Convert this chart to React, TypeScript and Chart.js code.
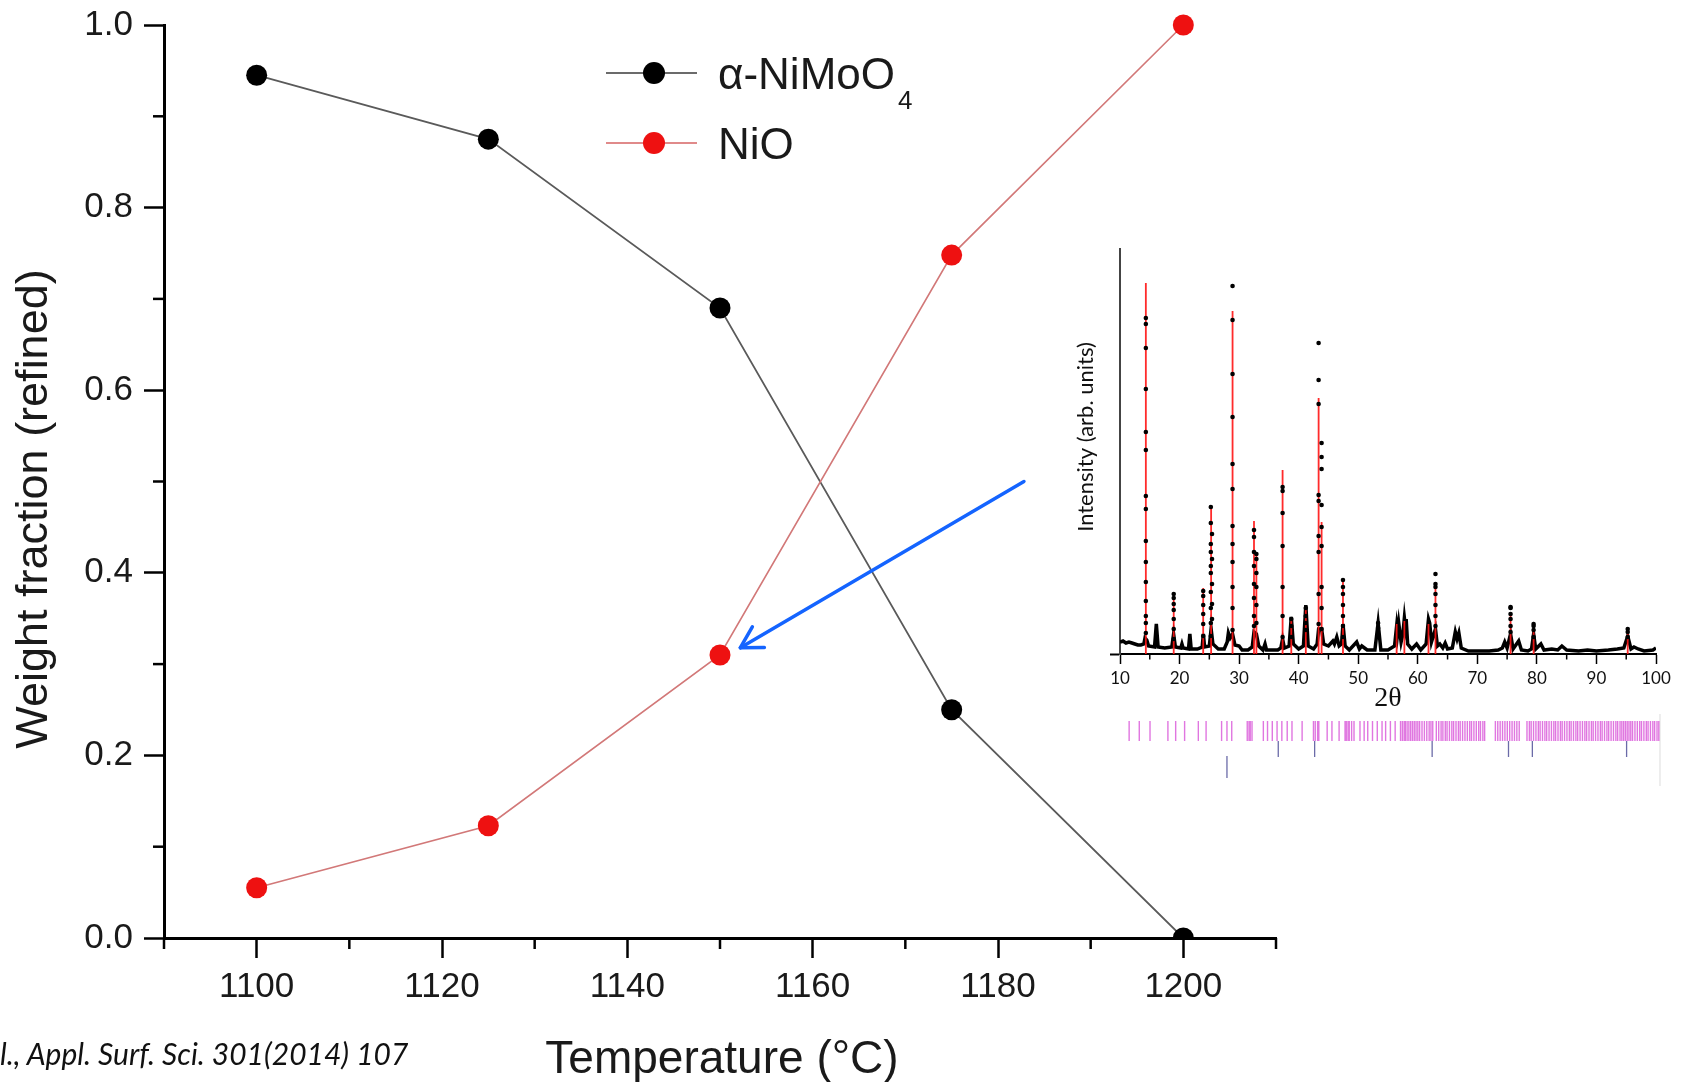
import React, { useEffect, useRef } from 'react';
import { Chart, registerables } from 'chart.js';
Chart.register(...registerables);

// ---------------- Main chart data ----------------
const temperatures = [1100, 1125, 1150, 1175, 1200];
const niMoO4Fraction = [0.945, 0.875, 0.69, 0.25, 0.0];
const niOFraction = [0.055, 0.123, 0.31, 0.748, 1.0];
const xMajorTicks = [1100, 1120, 1140, 1160, 1180, 1200];
const xMinorTicks = [1090, 1110, 1130, 1150, 1170, 1190, 1210];
const yMajorTicks = [0, 0.2, 0.4, 0.6, 0.8, 1.0];
const yMinorTicks = [0.1, 0.3, 0.5, 0.7, 0.9];
const xTitle = 'Temperature (°C)';
const yTitle = 'Weight fraction (refined)';
const seriesLabels = ['α-NiMoO₄', 'NiO'];
const citation = 'l., Appl. Surf. Sci. 301(2014) 107';

// ---------------- Inset XRD data (2θ, intensity arb. units) ----------------
const insetXTicks = [10, 20, 30, 40, 50, 60, 70, 80, 90, 100];
const insetXMinor = [15, 25, 35, 45, 55, 65, 75, 85, 95];
const insetXTitle = '2θ';
const insetYTitle = 'Intensity (arb. units)';

const obsLineX = [10.0, 10.5, 11.0, 11.5, 12.0, 12.5, 13.0, 13.5, 14.0, 14.2, 14.5, 14.8, 15.8, 16.1, 16.4, 17.5, 18.7, 19.0, 19.3, 20.2, 20.4, 20.6, 21.5, 21.73, 21.95, 23.0, 23.8, 24.0, 24.2, 25.0, 25.3, 25.6, 26.5, 27.5, 28.0, 28.2, 28.5, 28.9, 29.3, 30.0, 30.5, 31.5, 32.2, 32.5, 32.9, 33.3, 34.0, 34.35, 34.6, 36.5, 37.0, 37.3, 37.6, 38.4, 38.76, 39.1, 40.0, 40.8, 41.2, 41.6, 42.5, 43.1, 43.35, 43.85, 44.2, 45.0, 45.74, 46.0, 46.4, 46.8, 47.2, 47.44, 47.8, 48.5, 49.74, 50.2, 50.6, 51.5, 52.8, 53.34, 53.8, 55.0, 56.1, 56.45, 56.6, 56.8, 57.2, 57.5, 57.75, 57.9, 58.05, 58.3, 59.0, 59.8, 60.5, 61.4, 61.8, 62.0, 62.3, 62.97, 63.3, 63.7, 64.2, 64.6, 65.0, 65.8, 66.3, 66.6, 66.9, 67.3, 68.5, 70.0, 72.0, 73.5, 74.2, 74.6, 75.0, 75.58, 76.0, 76.94, 77.4, 78.5, 79.1, 79.45, 79.8, 80.67, 81.2, 82.5, 83.5, 84.2, 85.0, 87.0, 88.5, 90.0, 92.0, 93.5, 94.6, 95.25, 95.8, 96.3, 97.0, 98.0, 99.5, 100.0];
const obsLineY = [12, 13, 11, 12, 11, 10, 9, 9, 10, 16, 14, 8, 7, 30, 7, 6, 7, 20, 7, 6, 10, 6, 5, 20, 5, 5, 7, 20, 7, 8, 25, 10, 5, 5, 12, 21, 16, 20, 9, 8, 4, 4, 7, 22, 20, 8, 4, 10, 4, 4, 6, 15, 6, 8, 37, 10, 5, 8, 49, 8, 5, 10, 25, 25, 10, 8, 13, 10, 17, 8, 10, 30, 8, 4, 12, 5, 8, 4, 4, 31, 4, 4, 8, 28, 20, 31, 12, 20, 36, 28, 35, 10, 5, 10, 4, 10, 35, 31, 12, 25, 8, 10, 6, 11, 5, 6, 22, 15, 21, 6, 3, 3, 3, 4, 6, 12, 6, 20, 5, 13, 4, 3, 5, 20, 5, 10, 4, 5, 4, 8, 4, 3, 4, 3, 4, 5, 6, 18, 5, 7, 5, 3, 4, 6];

const calcPeakPos = [14.34, 19.02, 23.97, 25.3, 28.9, 32.5, 32.9, 37.3, 38.76, 41.2, 43.35, 43.85, 47.44, 56.45, 57.75, 61.8, 62.97, 75.58, 79.45, 95.25];
const calcPeakTop = [371, 56, 66, 148, 343, 133, 100, 184, 33, 45, 256, 132, 76, 30, 33, 30, 72, 40, 25, 22];

const obsPeakPos = [14.34, 19.02, 23.97, 25.25, 25.45, 28.9, 32.5, 32.9, 37.3, 38.76, 41.2, 43.35, 43.85, 47.44, 53.34, 62.97, 75.58, 79.45, 95.25];
const obsPeakDots = [
  [336, 330, 306, 265, 222, 204, 158, 145, 113, 92, 72, 53, 38, 31, 21],
  [60, 56, 50, 44, 35, 25, 15],
  [63, 58, 49, 40, 30, 18],
  [147, 131, 110, 102, 88, 81, 62, 46, 31, 18],
  [120, 95, 70, 50, 35],
  [368, 334, 280, 237, 190, 165, 128, 110, 92, 67, 46, 24],
  [124, 117, 102, 88, 70, 56, 38, 28],
  [100, 95, 81, 67, 49, 31],
  [167, 163, 141, 108, 67, 38, 17],
  [35, 28, 17],
  [46, 38, 31, 24],
  [311, 274, 250, 159, 153, 118, 102, 60, 30],
  [211, 197, 185, 149, 127, 108, 67, 46, 25],
  [74, 67, 60, 49, 38, 28, 17],
  [31, 26, 19],
  [80, 70, 67, 60, 49, 38, 28],
  [47, 46, 40, 35, 28, 22],
  [30, 28, 24, 17],
  [25, 22, 17],
];

// Bragg reflection markers (2θ)
const braggPhase1 = [11.7, 13.4, 15.2, 18.2, 19.5, 21.0, 23.3, 24.6, 27.2, 28.1, 28.9, 31.5, 31.8, 32.0, 32.3, 34.2, 34.9, 35.7, 36.5, 37.3, 38.2, 39.0, 40.7, 42.6, 42.9, 43.3, 43.5, 44.9, 45.7, 46.9, 47.9, 48.1, 48.4, 48.6, 49.0, 49.4, 50.4, 51.1, 51.7, 52.5, 53.3, 54.1, 54.7, 55.5, 56.3, 57.2, 57.5, 57.8, 58.0, 58.3, 58.6, 58.9, 59.2, 59.5, 59.8, 60.1, 60.4, 60.8, 61.2, 61.6, 62.0, 62.3, 62.6, 63.2, 63.6, 64.0, 64.3, 64.7, 65.0, 65.4, 65.8, 66.1, 66.5, 66.9, 67.2, 67.6, 68.0, 68.4, 68.8, 69.1, 69.5, 69.9, 70.3, 70.6, 71.0, 71.3, 73.1, 73.5, 73.9, 74.3, 74.7, 75.1, 75.5, 75.9, 76.3, 76.7, 77.1, 78.4, 78.8, 79.1, 79.5, 79.9, 80.3, 80.6, 81.0, 81.4, 81.7, 82.1, 82.5, 82.9, 83.2, 83.6, 84.0, 84.3, 84.7, 85.1, 85.5, 85.8, 86.2, 86.6, 86.9, 87.3, 87.7, 88.1, 88.4, 88.8, 89.2, 89.5, 89.9, 90.3, 90.7, 91.0, 91.4, 91.8, 92.1, 92.5, 92.9, 93.3, 93.6, 94.0, 94.3, 94.6, 94.9, 95.2, 95.5, 95.8, 96.1, 96.5, 96.9, 97.3, 97.6, 98.0, 98.4, 98.7, 99.1, 99.5, 99.8, 100.2, 100.5];
const braggPhase2 = [36.7, 42.8, 62.5, 75.3, 79.3, 95.1];
const braggPhase3 = [28.1];
const braggPanelEdge = [100.7];

const SANS = "'Liberation Sans', Arial, Helvetica, sans-serif";
const LATO = "Lato, 'Open Sans', sans-serif";

const mainDecor = {
  id: 'mainDecor',
  afterDraw(chart: any) {
    const { ctx, chartArea: a, scales } = chart;
    const x = scales.x, y = scales.y;
    ctx.save();
    // minor ticks
    ctx.strokeStyle = '#000';
    ctx.lineWidth = 2.5;
    xMinorTicks.forEach((v) => {
      const px = x.getPixelForValue(v);
      ctx.beginPath(); ctx.moveTo(px, a.bottom); ctx.lineTo(px, a.bottom + 11); ctx.stroke();
    });
    yMinorTicks.forEach((v) => {
      const py = y.getPixelForValue(v);
      ctx.beginPath(); ctx.moveTo(a.left, py); ctx.lineTo(a.left - 11, py); ctx.stroke();
    });
    // axis titles
    ctx.fillStyle = '#1a1a1a';
    ctx.font = `46px ${SANS}`;
    ctx.textAlign = 'center';
    ctx.textBaseline = 'alphabetic';
    ctx.fillText(xTitle, (a.left + a.right) / 2 + 2, 1073);
    ctx.font = `45px ${SANS}`;
    ctx.save();
    ctx.translate(47, 509);
    ctx.rotate(-Math.PI / 2);
    ctx.fillText(yTitle, 0, 0);
    ctx.restore();

    // legend
    const rows = [
      { y: 73, line: '#6b6b6b', fill: '#000', base: 'α-NiMoO', sub: '4' },
      { y: 143, line: '#e08a8a', fill: '#ee1111', base: 'NiO', sub: '' },
    ];
    rows.forEach((r) => {
      ctx.strokeStyle = r.line; ctx.lineWidth = 2;
      ctx.beginPath(); ctx.moveTo(606, r.y); ctx.lineTo(697, r.y); ctx.stroke();
      ctx.fillStyle = r.fill;
      ctx.beginPath(); ctx.arc(654, r.y, 11, 0, Math.PI * 2); ctx.fill();
      ctx.fillStyle = '#1a1a1a';
      ctx.textAlign = 'left';
      ctx.font = `44px ${SANS}`;
      ctx.fillText(r.base, 718, r.y + 16);
      if (r.sub) {
        const w = ctx.measureText(r.base).width;
        ctx.font = `26px ${SANS}`;
        ctx.fillText(r.sub, 718 + w + 3, r.y + 36);
      }
    });

    // arrow pointing to the NiO point at 1150 °C
    const p0 = { x: x.getPixelForValue(1182.8), y: y.getPixelForValue(0.5) };
    const p1 = { x: x.getPixelForValue(1152.2), y: y.getPixelForValue(0.318) };
    ctx.strokeStyle = '#1464ff';
    ctx.lineWidth = 3.5;
    ctx.lineCap = 'round';
    ctx.beginPath(); ctx.moveTo(p0.x, p0.y); ctx.lineTo(p1.x, p1.y); ctx.stroke();
    const ang = Math.atan2(p0.y - p1.y, p0.x - p1.x);
    [-1, 1].forEach((s) => {
      const a2 = ang + s * 0.52;
      ctx.beginPath(); ctx.moveTo(p1.x, p1.y);
      ctx.lineTo(p1.x + 24 * Math.cos(a2), p1.y + 24 * Math.sin(a2)); ctx.stroke();
    });
    ctx.restore();
  },
};

const insetDecor = {
  id: 'insetDecor',
  afterDraw(chart: any) {
    const { ctx, chartArea: a, scales } = chart;
    const x = scales.x;
    ctx.save();
    ctx.strokeStyle = '#000';
    ctx.lineWidth = 1.5;
    insetXMinor.forEach((v) => {
      const px = x.getPixelForValue(v);
      ctx.beginPath(); ctx.moveTo(px, a.bottom); ctx.lineTo(px, a.bottom + 5.5); ctx.stroke();
    });
    ctx.fillStyle = '#111';
    ctx.textAlign = 'center';
    ctx.textBaseline = 'middle';
    ctx.font = "28px 'Liberation Serif', 'DejaVu Serif', serif";
    ctx.fillText(insetXTitle, (a.left + a.right) / 2, a.bottom + 45);
    ctx.font = `22px ${LATO}`;
    ctx.translate(46, 217);
    ctx.rotate(-Math.PI / 2);
    ctx.fillText(insetYTitle, 0, 0);
    ctx.restore();
  },
};

export default function App() {
  const mainRef = useRef<HTMLCanvasElement>(null);
  const insetRef = useRef<HTMLCanvasElement>(null);
  const braggRef = useRef<HTMLCanvasElement>(null);

  useEffect(() => {
    const charts: Chart[] = [];

    charts.push(
      new Chart(mainRef.current as HTMLCanvasElement, {
        type: 'line',
        data: {
          datasets: [
            {
              label: seriesLabels[1],
              data: temperatures.map((t, i) => ({ x: t, y: niOFraction[i] })),
              borderColor: '#d27878',
              borderWidth: 1.6,
              pointRadius: 10.5,
              pointBackgroundColor: '#ee1111',
              pointBorderColor: '#ee1111',
              pointBorderWidth: 0,
              clip: false as any,
            },
            {
              label: seriesLabels[0],
              data: temperatures.map((t, i) => ({ x: t, y: niMoO4Fraction[i] })),
              borderColor: '#5a5a5a',
              borderWidth: 1.8,
              pointRadius: 10.5,
              pointBackgroundColor: '#000',
              pointBorderColor: '#000',
              pointBorderWidth: 0,
              clip: { left: false, top: false, right: false, bottom: 0 } as any,
            },
          ],
        },
        options: {
          animation: false,
          responsive: false,
          events: [],
          layout: { autoPadding: false, padding: { top: 25, right: 406, left: 0, bottom: 0 } },
          plugins: { legend: { display: false }, tooltip: { enabled: false } },
          scales: {
            x: {
              type: 'linear',
              min: 1090,
              max: 1210,
              afterBuildTicks: (s: any) => { s.ticks = xMajorTicks.map((v) => ({ value: v })); },
              afterFit: (s: any) => { s.height = 1082 - 938; s.paddingLeft = 0; s.paddingRight = 0; },
              border: { display: true, color: '#000', width: 3 },
              grid: { display: true, drawOnChartArea: false, drawTicks: true, tickLength: 20, tickColor: '#000', tickWidth: 2.5 },
              ticks: {
                font: { family: SANS, size: 35 },
                color: '#1a1a1a',
                padding: 8,
                maxRotation: 0,
                autoSkip: false,
                callback: (v: any) => String(v),
              },
            },
            y: {
              type: 'linear',
              min: 0,
              max: 1,
              afterBuildTicks: (s: any) => { s.ticks = yMajorTicks.map((v) => ({ value: v })); },
              afterFit: (s: any) => { s.width = 164; s.paddingTop = 0; s.paddingBottom = 0; },
              border: { display: true, color: '#000', width: 3 },
              grid: { display: true, drawOnChartArea: false, drawTicks: true, tickLength: 20, tickColor: '#000', tickWidth: 2.5 },
              ticks: {
                font: { family: SANS, size: 35 },
                color: '#1a1a1a',
                padding: 11,
                autoSkip: false,
                callback: (v: any) => Number(v).toFixed(1),
              },
            },
          },
        },
        plugins: [mainDecor],
      } as any)
    );

    const obsDots: { x: number; y: number }[] = [];
    obsPeakPos.forEach((p, i) => obsPeakDots[i].forEach((h) => obsDots.push({ x: p, y: h })));
    const calcData: { x: number; y: number | null }[] = [];
    calcPeakPos.forEach((p, i) => {
      calcData.push({ x: p, y: 0 }, { x: p, y: calcPeakTop[i] }, { x: p, y: null });
    });

    charts.push(
      new Chart(insetRef.current as HTMLCanvasElement, {
        type: 'line',
        data: {
          datasets: [
            {
              type: 'scatter',
              label: 'obs',
              data: obsDots,
              showLine: false,
              pointRadius: 2.3,
              pointBackgroundColor: '#000',
              pointBorderWidth: 0,
              order: 0,
            },
            {
              label: 'calc',
              data: calcData,
              borderColor: 'rgba(255,20,20,0.9)',
              borderWidth: 1.8,
              pointRadius: 0,
              spanGaps: false,
              order: 1,
            },
            {
              label: 'obs profile',
              data: obsLineX.map((v, i) => ({ x: v, y: obsLineY[i] })),
              borderColor: '#000',
              borderWidth: 3.5,
              pointRadius: 0,
              order: 2,
            },
          ],
        },
        options: {
          animation: false,
          responsive: false,
          events: [],
          layout: { autoPadding: false, padding: { top: 29, right: 26, left: 0, bottom: 0 } },
          plugins: { legend: { display: false }, tooltip: { enabled: false } },
          scales: {
            x: {
              type: 'linear',
              min: 10,
              max: 100,
              afterBuildTicks: (s: any) => { s.ticks = insetXTicks.map((v) => ({ value: v })); },
              afterFit: (s: any) => { s.height = 66; },
              border: { display: true, color: '#000', width: 2 },
              grid: { display: true, drawOnChartArea: false, drawTicks: true, tickLength: 10, tickColor: '#000', tickWidth: 1.5 },
              ticks: {
                font: { family: LATO, size: 17 },
                color: '#111',
                padding: 4,
                maxRotation: 0,
                autoSkip: false,
                callback: (v: any) => String(v),
              },
            },
            y: {
              type: 'linear',
              min: 0,
              max: 405,
              afterBuildTicks: (s: any) => { s.ticks = [{ value: 0 }]; },
              afterFit: (s: any) => { s.width = 80; },
              border: { display: true, color: '#444', width: 2 },
              grid: { display: true, drawOnChartArea: false, drawTicks: true, tickLength: 10, tickColor: '#000', tickWidth: 2 },
              ticks: { display: false },
            },
          },
        },
        plugins: [insetDecor],
      } as any)
    );

    charts.push(
      new Chart(braggRef.current as HTMLCanvasElement, {
        type: 'scatter',
        data: {
          datasets: [
            {
              data: braggPhase1.map((v) => ({ x: v, y: 69 })),
              pointStyle: 'line',
              pointRotation: 90,
              pointRadius: 10,
              pointBorderWidth: 1.4,
              pointBorderColor: 'rgba(214,72,214,0.75)',
              clip: false as any,
            },
            {
              data: braggPhase2.map((v) => ({ x: v, y: 51 })),
              pointStyle: 'line',
              pointRotation: 90,
              pointRadius: 8,
              pointBorderWidth: 1.3,
              pointBorderColor: '#6b6ba8',
              clip: false as any,
            },
            {
              data: braggPhase3.map((v) => ({ x: v, y: 33 })),
              pointStyle: 'line',
              pointRotation: 90,
              pointRadius: 11,
              pointBorderWidth: 1.3,
              pointBorderColor: '#6b6ba8',
              clip: false as any,
            },
            {
              data: braggPanelEdge.map((v) => ({ x: v, y: 50 })),
              pointStyle: 'line',
              pointRotation: 90,
              pointRadius: 36,
              pointBorderWidth: 1.2,
              pointBorderColor: '#e2e2e2',
              clip: false as any,
            },
          ],
        },
        options: {
          animation: false,
          responsive: false,
          events: [],
          layout: { autoPadding: false, padding: { top: 0, right: 22, left: 19, bottom: 0 } },
          plugins: { legend: { display: false }, tooltip: { enabled: false } },
          scales: {
            x: { type: 'linear', display: false, min: 10, max: 100.7 },
            y: { type: 'linear', display: false, min: 0, max: 100 },
          },
        },
      } as any)
    );

    return () => charts.forEach((c) => c.destroy());
  }, []);

  return (
    <div style={{ position: 'fixed', left: 0, top: 0, width: 1682, height: 1082, background: '#fff', overflow: 'hidden' }}>
      <canvas ref={mainRef} width={1682} height={1082} style={{ position: 'absolute', left: 0, top: 0 }} />
      <canvas ref={insetRef} width={642} height={500} style={{ position: 'absolute', left: 1040, top: 220 }} />
      <canvas ref={braggRef} width={582} height={100} style={{ position: 'absolute', left: 1100, top: 700 }} />
      <div
        style={{
          position: 'absolute',
          left: 0,
          top: 1038,
          font: `italic 30px ${LATO}`,
          lineHeight: '30px',
          color: '#111',
          whiteSpace: 'nowrap',
        }}
      >
        {citation}
      </div>
    </div>
  );
}
